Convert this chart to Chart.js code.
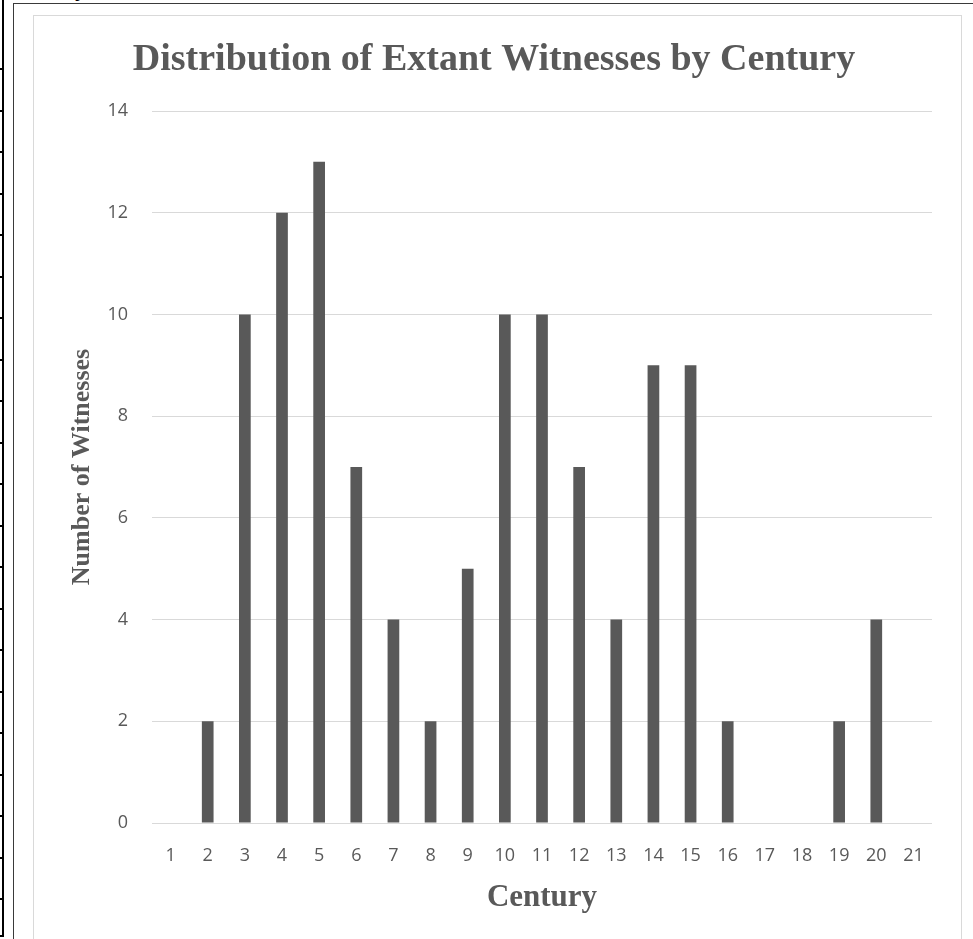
<!DOCTYPE html>
<html>
<head>
<meta charset="utf-8">
<script src="https://cdn.jsdelivr.net/npm/chart.js@4"></script>
<style>
  html, body { margin: 0; padding: 0; background: #fff; overflow: hidden; }
  body { width: 973px; height: 939px; position: relative; }
  .rule { position: absolute; background: #000; }
  #outer { position: absolute; left: 13px; top: 3px; width: 980px; height: 960px;
           border-left: 1.5px solid #3a3a3a; border-top: 1.5px solid #3a3a3a; }
  #box { position: absolute; left: 33px; top: 15px; width: 927px; height: 940px;
         border: 1px solid #d9d9d9; }
  #wrap { position: absolute; left: 33px; top: 15px; width: 928px; height: 924px; }
  #stray { position: absolute; left: 75px; top: -25px; font: bold 24px "Liberation Serif", serif; color: #000; }
</style>
</head>
<body>
<div id="stray">y</div>
<div id="left"></div>
<div id="outer"></div>
<div id="box"></div>
<div id="wrap"><canvas id="myChart"></canvas></div>
<script>
// table rows cut off on the left edge of the page
const left = document.getElementById('left')
const v = document.createElement('div')
v.className = 'rule'
v.style.cssText = 'left:2px;top:0;width:2px;height:937px'
left.appendChild(v)
for (let k = 0; k <= 21; k++) {
  const h = document.createElement('div')
  h.className = 'rule'
  const y = k === 21 ? 935 : 68 + 41.5 * k
  h.style.cssText = `left:0;top:${y}px;width:4px;height:2px`
  left.appendChild(h)
}

const centuries = ['1','2','3','4','5','6','7','8','9','10','11','12','13','14','15','16','17','18','19','20','21']
const witnesses = [0, 2, 10, 12, 13, 7, 4, 2, 5, 10, 10, 7, 4, 9, 9, 2, 0, 0, 2, 4, 0]
const yTicks = [0, 2, 4, 6, 8, 10, 12, 14]

const grey = '#595959'

const titlePlugin = {
  id: 'bigTitle',
  afterDraw(chart) {
    const c = chart.ctx
    c.save()
    c.fillStyle = grey
    c.font = 'bold 38px "Liberation Serif", serif'
    c.textAlign = 'center'
    c.textBaseline = 'alphabetic'
    c.fillText('Distribution of Extant Witnesses by Century', 461, 55)
    c.restore()
  }
}

const ctx = document.getElementById('myChart')
new Chart(ctx, {
  type: 'bar',
  data: {
    labels: centuries,
    datasets: [{
      label: 'Witnesses',
      data: witnesses,
      backgroundColor: grey,
      borderWidth: 0,
      categoryPercentage: 1,
      barPercentage: 0.315
    }]
  },
  options: {
    responsive: true,
    maintainAspectRatio: false,
    animation: false,
    layout: { padding: { top: 96, right: 29, left: 0, bottom: 0 } },
    plugins: {
      legend: { display: false },
      tooltip: { enabled: false }
    },
    scales: {
      x: {
        grid: { display: false },
        border: { display: false },
        ticks: { color: grey, padding: 14, font: { family: '"Open Sans", sans-serif', size: 18 } },
        title: {
          display: true,
          text: 'Century',
          color: grey,
          padding: { top: 0, bottom: 22 },
          font: { family: '"Liberation Serif", serif', size: 31, weight: 'bold' }
        },
        afterFit(scale) { scale.height = 116 }
      },
      y: {
        min: 0,
        max: 14,
        afterBuildTicks(scale) { scale.ticks = yTicks.map(v => ({ value: v })) },
        grid: { color: '#d9d9d9', lineWidth: 1, drawTicks: false },
        border: { display: false },
        ticks: { color: grey, padding: 24, font: { family: '"Open Sans", sans-serif', size: 18 } },
        title: {
          display: true,
          text: 'Number of Witnesses',
          color: grey,
          padding: { top: 34, bottom: 0 },
          font: { family: '"Liberation Serif", serif', size: 26, weight: 'bold' }
        },
        afterFit(scale) { scale.width = 119 }
      }
    }
  },
  plugins: [titlePlugin]
})
</script>
</body>
</html>
